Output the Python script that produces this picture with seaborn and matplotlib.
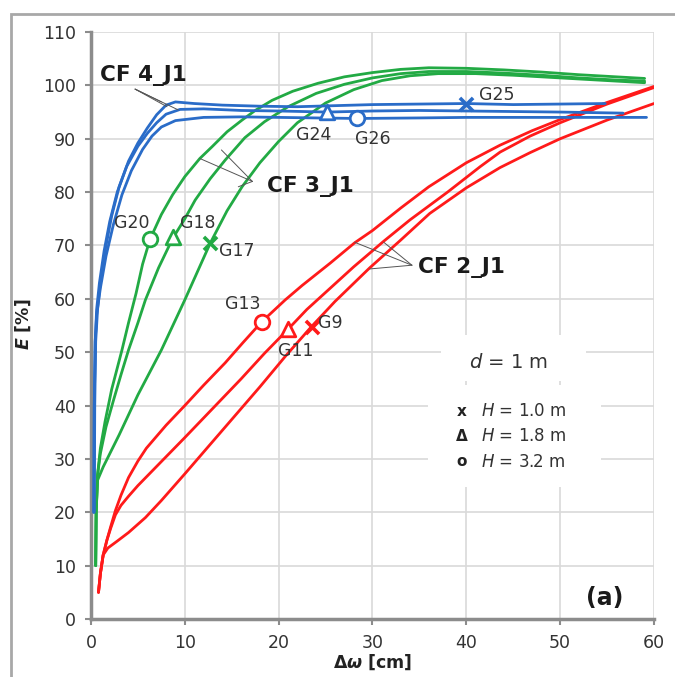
import pandas as pd
import seaborn as sns
import matplotlib.pyplot as plt
from matplotlib.patches import Rectangle

# CF 2_J1 (red) curves
g13_x = [0.8, 1.0, 1.3, 1.7, 2.1, 2.6, 3.2, 4.0, 5.0, 5.9, 8.0, 10.0, 12.0, 14.3, 16.2, 18.2, 20.7, 22.5, 25.5, 28.1, 30.0, 33.0, 36.0, 40.0, 43.6, 47.0, 50.0, 55.0, 60.0]
g13_y = [5.0, 8.5, 12.0, 14.8, 17.3, 20.3, 23.2, 26.5, 29.6, 32.0, 36.3, 40.0, 43.8, 48.0, 51.8, 55.7, 59.8, 62.5, 66.7, 70.5, 72.8, 77.0, 81.0, 85.5, 88.8, 91.5, 93.6, 96.8, 99.8]
g11_x = [0.8, 1.0, 1.3, 1.7, 2.1, 2.6, 3.2, 4.0, 5.0, 7.5, 10.0, 13.0, 16.0, 18.5, 21.0, 23.0, 25.5, 28.0, 31.2, 34.0, 38.0, 41.5, 43.6, 46.8, 50.0, 55.0, 60.0]
g11_y = [5.0, 8.5, 12.0, 14.8, 17.0, 19.5, 21.3, 23.0, 25.0, 29.5, 34.0, 39.5, 45.0, 49.8, 54.3, 58.0, 62.0, 66.0, 70.8, 74.8, 80.0, 84.8, 87.5, 90.5, 93.0, 96.5, 99.6]
g9_x = [0.8, 1.0, 1.3, 1.8, 2.8, 4.0, 5.8, 7.5, 10.0, 12.5, 15.3, 18.0, 20.7, 23.5, 26.0, 29.7, 33.0, 36.1, 40.0, 43.6, 46.8, 50.0, 55.0, 60.0]
g9_y = [5.0, 8.5, 12.0, 13.3, 14.6, 16.2, 19.0, 22.2, 27.2, 32.3, 38.0, 43.5, 49.2, 54.8, 59.5, 65.8, 71.0, 76.0, 80.8, 84.6, 87.4, 90.0, 93.5, 96.6]

# CF 3_J1 (green) curves
g20_x = [0.5, 0.55, 0.7, 1.0, 1.5, 2.2, 3.3, 4.0, 4.8, 5.5, 6.3, 7.5, 8.7, 10.0, 11.6, 12.9, 14.5, 16.1, 17.5, 19.3, 21.5, 24.2, 27.0, 30.0, 33.0, 36.0, 40.0, 44.0, 48.0, 52.0, 56.0, 59.0]
g20_y = [10.0, 20.0, 27.0, 32.0, 37.0, 43.0, 50.4, 55.5, 61.0, 66.5, 71.2, 75.8, 79.5, 82.9, 86.3, 88.5, 91.3, 93.5, 95.3, 97.2, 98.9, 100.4, 101.6, 102.4, 103.0, 103.3, 103.2, 102.9, 102.5, 102.0, 101.6, 101.3]
g18_x = [0.5, 0.55, 0.7, 1.0, 1.6, 2.4, 3.2, 4.0, 5.0, 5.8, 7.2, 8.7, 10.0, 11.1, 12.7, 14.3, 16.4, 18.5, 21.0, 24.0, 27.0, 30.0, 33.0, 36.0, 40.0, 44.0, 48.0, 52.0, 56.0, 59.0]
g18_y = [10.0, 20.0, 27.0, 31.0, 36.0, 41.0, 45.8, 50.4, 55.5, 59.8, 65.8, 71.3, 75.0, 78.5, 82.5, 86.0, 90.2, 93.2, 96.0, 98.5, 100.2, 101.4, 102.2, 102.6, 102.6, 102.3, 101.9, 101.4, 101.0, 100.8]
g17_x = [0.5, 0.55, 0.7, 1.3, 3.0, 5.0, 7.5, 10.0, 12.7, 14.5, 16.1, 18.0, 20.0, 22.0, 25.0, 28.0, 31.0, 34.0, 37.0, 41.0, 45.0, 49.0, 53.0, 56.0, 59.0]
g17_y = [10.0, 20.0, 26.0, 28.5, 34.5, 42.0, 50.4, 59.8, 70.4, 76.5, 81.0, 85.5, 89.5, 93.0, 96.7, 99.2, 100.9, 101.8, 102.2, 102.2, 101.9, 101.5, 101.1, 100.8, 100.5]

# CF 4_J1 (blue) curves
g25_x = [0.35, 0.4, 0.5, 0.7, 1.0, 1.5, 2.2, 3.0, 4.0, 5.0, 6.0, 7.0, 8.0, 9.0, 11.0, 14.0, 18.0, 22.0, 26.0, 30.0, 35.0, 40.0, 45.0, 50.0, 54.8]
g25_y = [20.0, 40.0, 52.0, 58.0, 63.0, 69.0, 75.5, 81.0, 85.8, 89.2, 92.0, 94.5, 96.3, 96.9, 96.6, 96.3, 96.1, 96.0, 96.2, 96.4, 96.5, 96.6, 96.4, 96.5, 96.6]
g24_x = [0.3, 0.35, 0.45, 0.6, 0.9, 1.4, 2.0, 2.8, 3.8, 5.0, 6.0, 7.0, 8.0, 9.5, 12.0, 16.0, 20.0, 25.2, 30.0, 35.0, 40.0, 45.0, 50.0, 56.7]
g24_y = [20.0, 40.0, 52.0, 58.0, 63.0, 69.0, 74.5, 80.0, 84.8, 88.6, 91.0, 93.0, 94.6, 95.5, 95.6, 95.3, 95.2, 95.0, 95.2, 95.3, 95.2, 95.1, 95.0, 94.8]
g26_x = [0.3, 0.35, 0.45, 0.6, 1.0, 1.6, 2.4, 3.3, 4.3, 5.5, 6.5, 7.5, 9.0, 12.0, 16.0, 20.0, 24.0, 28.4, 35.0, 40.0, 45.0, 50.0, 55.0, 59.2]
g26_y = [20.0, 40.0, 52.0, 57.0, 62.0, 68.0, 74.0, 79.5, 84.0, 88.0, 90.5, 92.2, 93.4, 94.0, 94.1, 94.0, 93.9, 93.8, 93.9, 94.0, 94.0, 94.0, 94.0, 94.0]

# test markers
mark_names = ["G9", "G11", "G13", "G17", "G18", "G20", "G25", "G24", "G26"]
mark_x = [23.5, 21.0, 18.2, 12.7, 8.7, 6.3, 40.0, 25.2, 28.4]
mark_y = [54.8, 54.3, 55.7, 70.4, 71.6, 71.2, 96.6, 95.0, 93.8]
mark_shape = ["x", "^", "o", "x", "^", "o", "x", "^", "o"]
mark_group = ["red", "red", "red", "green", "green", "green", "blue", "blue", "blue"]
# label positions (left edge, centre)
lab_x = [24.2, 19.9, 14.3, 13.6, 9.5, 2.4, 41.3, 21.9, 28.1]
lab_y = [55.5, 50.3, 59.1, 68.9, 74.3, 74.3, 98.2, 90.7, 90.0]

colors = {"red": "#ff1a1a", "green": "#22aa44", "blue": "#2a6cc8"}

curves = {
    "G13": (g13_x, g13_y, "red"), "G11": (g11_x, g11_y, "red"), "G9": (g9_x, g9_y, "red"),
    "G20": (g20_x, g20_y, "green"), "G18": (g18_x, g18_y, "green"), "G17": (g17_x, g17_y, "green"),
    "G25": (g25_x, g25_y, "blue"), "G24": (g24_x, g24_y, "blue"), "G26": (g26_x, g26_y, "blue"),
}
rows = []
for name, (xs, ys, grp) in curves.items():
    for x, y in zip(xs, ys):
        rows.append({"test": name, "dw": x, "E": y})
df = pd.DataFrame(rows)
pal = {name: colors[grp] for name, (xs, ys, grp) in curves.items()}

sns.set_theme(style="whitegrid")
plt.rcParams["font.family"] = ["DejaVu Sans"]
plt.rcParams["mathtext.fontset"] = "dejavusans"

fig, ax = plt.subplots(figsize=(6.75, 6.77), dpi=100)
fig.subplots_adjust(left=0.1348, right=0.9689, bottom=0.0857, top=0.9527)
ax.set_facecolor("white")

# outer grey frame
fig.patches.append(Rectangle((0.0163, -0.05), 1.1, 0.029 + 1.0, transform=fig.transFigure,
                             fill=False, edgecolor="#a8a8a8", lw=2))

sns.lineplot(data=df, x="dw", y="E", hue="test", palette=pal, sort=False,
             estimator=None, lw=2.0, legend=False, ax=ax, zorder=3)

for i in range(len(mark_names)):
    c = colors[mark_group[i]]
    if mark_shape[i] == "x":
        ax.scatter(mark_x[i], mark_y[i], marker="x", s=90, color=c, linewidths=2.6, zorder=4)
    else:
        ax.scatter(mark_x[i], mark_y[i], marker=mark_shape[i], s=110, facecolor="white",
                   edgecolor=c, linewidths=2.0, zorder=4)
    ax.text(lab_x[i], lab_y[i], mark_names[i], fontsize=12.5, color="#333333",
            ha="left", va="center", zorder=5)

# curve family labels with pointer lines
ax.text(1.0, 101.8, "CF 4_J1", fontsize=15.5, fontweight="bold", color="#1a1a1a", va="center")
for ex, ey in [(7.5, 96.9), (8.1, 96.0), (9.3, 95.4)]:
    ax.plot([4.7, ex], [99.3, ey], color="#555555", lw=0.7, zorder=5)
ax.text(18.8, 81.0, "CF 3_J1", fontsize=15.5, fontweight="bold", color="#1a1a1a", va="center")
for ex, ey in [(11.6, 86.3), (13.9, 87.9), (15.7, 81.0)]:
    ax.plot([17.2, ex], [82.0, ey], color="#555555", lw=0.7, zorder=5)
ax.text(34.9, 65.8, "CF 2_J1", fontsize=15.5, fontweight="bold", color="#1a1a1a", va="center")
for ex, ey in [(28.1, 70.6), (31.2, 70.6), (29.7, 65.6)]:
    ax.plot([34.2, ex], [66.3, ey], color="#555555", lw=0.7, zorder=5)

# legend boxes
ax.add_patch(Rectangle((37.3, 44.6), 15.4, 8.6, facecolor="white", edgecolor="none", zorder=1.5))
ax.add_patch(Rectangle((35.9, 24.7), 18.4, 19.2, facecolor="white", edgecolor="none", zorder=1.5))
ax.text(44.5, 48.0, r"$\it{d}$ = 1 m", fontsize=14, color="#333333", ha="center", va="center", zorder=5)
leg_sym = ["x", "Δ", "o"]
leg_txt = [r"$\it{H}$ = 1.0 m", r"$\it{H}$ = 1.8 m", r"$\it{H}$ = 3.2 m"]
leg_y = [38.9, 34.2, 29.5]
for s, t, y in zip(leg_sym, leg_txt, leg_y):
    ax.text(39.5, y, s, fontsize=11, fontweight="bold", color="#222222", ha="center", va="center", zorder=5)
    ax.text(41.6, y, t, fontsize=12, color="#333333", ha="left", va="center", zorder=5)

ax.text(56.7, 4.0, "(a)", fontsize=17, fontweight="bold", color="#1a1a1a", ha="right", va="center")

ax.set_xlim(0, 60)
ax.set_ylim(0, 110)
ax.set_xticks(range(0, 61, 10))
ax.set_yticks(range(0, 111, 10))
ax.grid(True, color="#d9d9d9", lw=1.2)
ax.set_axisbelow(True)
sns.despine(ax=ax)
for side in ["left", "bottom"]:
    ax.spines[side].set_color("#8c8c8c")
    ax.spines[side].set_linewidth(2.5)
ax.tick_params(axis="both", direction="out", length=4, width=1.5, color="#8c8c8c",
               labelsize=12.5, labelcolor="#333333", pad=7, bottom=True, left=True)

ax.set_xlabel(r"Δ$\mathbfit{\omega}$ [cm]", fontsize=12.5, fontweight="bold", color="#222222")
ax.set_ylabel(r"$\mathbfit{E}$ [%]", fontsize=12.5, fontweight="bold", color="#222222")
ax.xaxis.set_label_coords(0.5, -0.058)
ax.yaxis.set_label_coords(-0.103, 0.503)

plt.savefig("out.png", dpi=100)
